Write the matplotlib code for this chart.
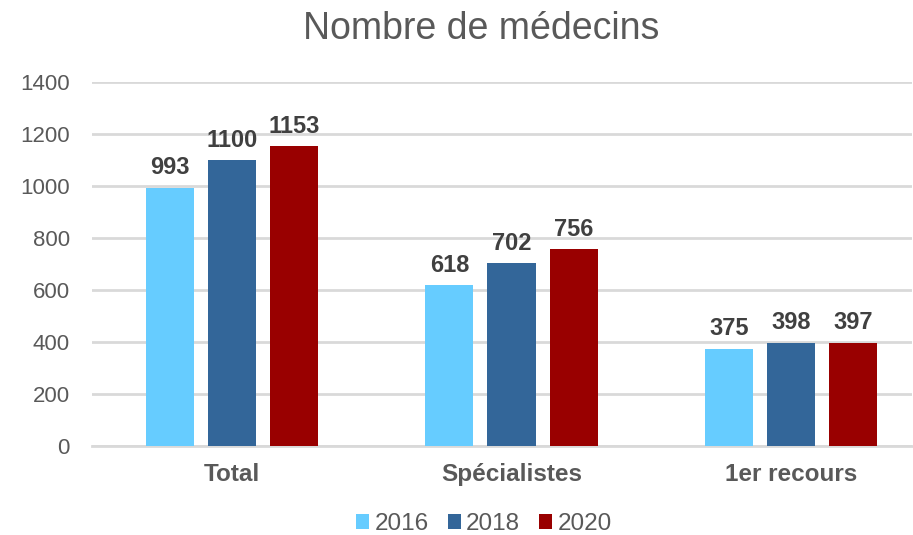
import matplotlib
matplotlib.use("Agg")
import matplotlib.pyplot as plt
from matplotlib.patches import Patch
import numpy as np

categories = ["Total", "Spécialistes", "1er recours"]
years = ["2016", "2018", "2020"]
values_2016 = [993, 618, 375]
values_2018 = [1100, 702, 398]
values_2020 = [1153, 756, 397]
yticks = [0, 200, 400, 600, 800, 1000, 1200, 1400]

series = [values_2016, values_2018, values_2020]
colors = ["#66CCFF", "#336699", "#990000"]

plt.rcParams['font.family'] = ['Liberation Sans', 'DejaVu Sans']

fig = plt.figure(figsize=(9.13, 5.35), dpi=100)
ax = fig.add_axes([92/913, 89/535, 820/913, 364/535])

x = np.arange(len(categories))
width = 0.172
offset = 0.222
for i, (vals, col) in enumerate(zip(series, colors)):
    pos = x + (i - 1) * offset
    bars = ax.bar(pos, vals, width=width, color=col, zorder=3)
    for b, v in zip(bars, vals):
        ax.annotate(str(v), (b.get_x() + b.get_width() / 2, v), xytext=(0, 6),
                    textcoords="offset points", ha="center", va="bottom",
                    fontsize=17, fontweight="bold", color="#404040")

ax.set_xlim(-0.501, 2.433)
ax.set_ylim(0, 1400)
ax.set_yticks(yticks)
ax.set_xticks(x)
ax.set_xticklabels(categories, fontsize=17.5, fontweight="bold", color="#595959")
ax.tick_params(axis="y", labelsize=16, labelcolor="#595959", length=0, pad=16)
ax.tick_params(axis="x", length=0, pad=12)
ax.grid(axis="y", color="#D9D9D9", linewidth=2, zorder=0)
for s in ["top", "right", "left"]:
    ax.spines[s].set_visible(False)
ax.spines["bottom"].set_color("#D9D9D9")
ax.spines["bottom"].set_linewidth(2)

fig.text(481/913, 1 - 29/535, "Nombre de médecins", ha="center", va="center",
         fontsize=27, color="#595959")

handles = [Patch(facecolor=c) for c in colors]
fig.legend(handles, years, loc="center", bbox_to_anchor=(484/913, 1 - 524/535),
           ncol=3, frameon=False, fontsize=17.5, labelcolor="#595959",
           handlelength=0.53, handleheight=0.53, handletextpad=0.22, columnspacing=0.8)

fig.savefig("out.png", dpi=100)
